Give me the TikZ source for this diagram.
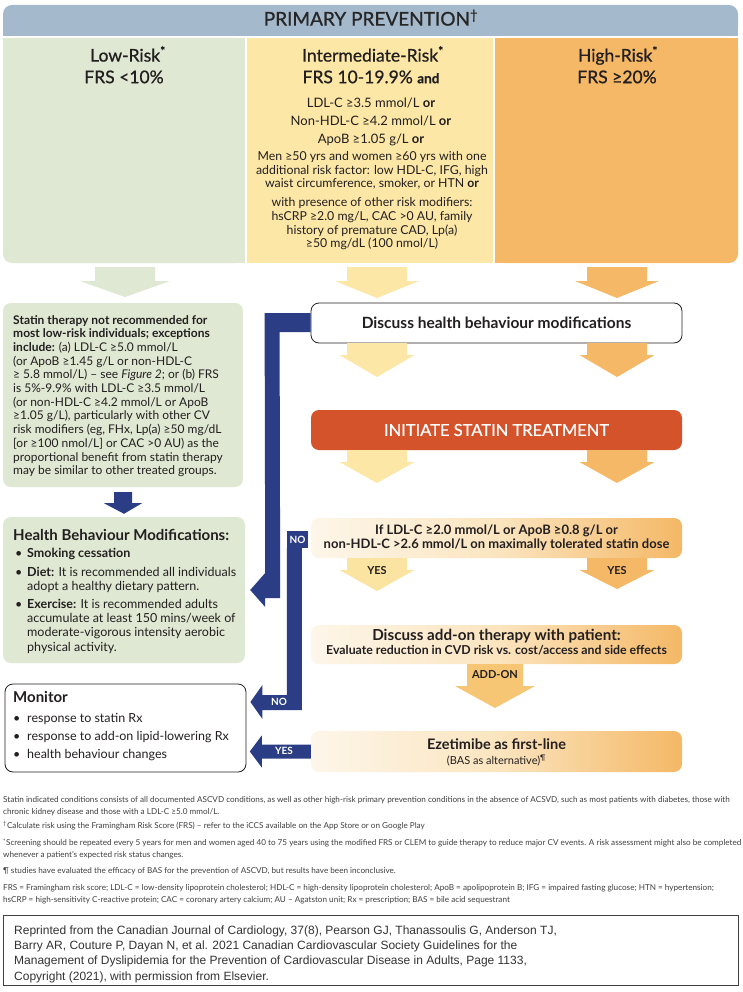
\documentclass[tikz,border=0pt]{standalone}
\usepackage{fontspec}
\setmainfont{Lato}
\newfontfamily\hfont{Lato}[FakeBold=0.8]
\newfontfamily\citefont{Liberation Sans}
\usetikzlibrary{calc}

\definecolor{hdrc}{HTML}{A5B9CD}
\definecolor{lowc}{HTML}{DFE8D2}
\definecolor{midc}{HTML}{FCE7A6}
\definecolor{highc}{HTML}{F4B866}
\definecolor{navyc}{HTML}{2B3E85}
\definecolor{redc}{HTML}{D4532B}
\definecolor{creamc}{HTML}{FDF6E9}
\definecolor{peachc}{HTML}{FBE5C0}
\definecolor{txtc}{HTML}{231F20}
\definecolor{fnc}{HTML}{404040}
\definecolor{addc}{HTML}{F6C674}
\definecolor{yesc}{HTML}{FBE3A2}

\newcommand{\fs}[1]{\fontsize{#1}{1.2\dimexpr #1pt\relax}\selectfont}

\tikzset{
  pics/barrow/.style n args={4}{code={\path[pic actions] (-#1,0) -- (#1,0) -- (#1,#3) -- (#2,#3) -- (0,#4) -- (-#2,#3) -- (-#1,#3) -- cycle;}},
  ln/.style={anchor=west, inner sep=0pt, text=txtc, execute at begin node=\strut},
  cl/.style={inner sep=0pt, text=txtc, execute at begin node=\strut},
  gbox/.style={rounded corners=8pt, inner sep=0pt, left color=creamc, right color=highc, middle color=peachc},
  wbox/.style={rounded corners=8pt, inner sep=0pt, draw=txtc, line width=0.8pt, fill=white},
  colhead/.style={cl, font=\hfont\fs{17.5}},
  midl/.style={cl, font=\fs{13}},
  mids/.style={cl, font=\fs{12.3}},
  fnote/.style={anchor=west, inner sep=0pt, text=fnc, font=\fs{8.15}},
  navytxt/.style={inner sep=0pt, text=white, font=\bfseries\fs{10}}
}

\begin{document}
\begin{tikzpicture}[x=1pt,y=-1pt]
\useasboundingbox (0,0) rectangle (742,992);
\fill[white] (0,0) rectangle (742,992);

% header
\fill[hdrc, rounded corners=9pt] (3,5) rectangle (738,36);
\fill[hdrc] (3,20) rectangle (738,36);
\node[cl, text=black!85, font=\hfont\fs{19}] (title) at (371,21) {PRIMARY PREVENTION\textsuperscript{†}};

% columns
\fill[lowc, rounded corners=9pt] (3,38) rectangle (245,263);
\fill[lowc] (3,38) rectangle (245,245);
\fill[lowc] (25,38) rectangle (245,263);
\fill[midc] (247,38) rectangle (493,263);
\fill[highc, rounded corners=9pt] (495,38) rectangle (738,263);
\fill[highc] (495,38) rectangle (738,245);
\fill[highc] (495,38) rectangle (715,263);

\node[colhead] (lowh) at (128,57) {Low-Risk\textsuperscript{*}};
\node[colhead] (lowf) at (124,79) {FRS <10\%};
\node[colhead] (midh) at (373,57) {Intermediate-Risk\textsuperscript{*}};
\node[colhead] (midf) at (371,79) {FRS 10-19.9\% {\bfseries\fs{13.5}and}};
\node[colhead] (highh) at (618,57) {High-Risk\textsuperscript{*}};
\node[colhead] (highf) at (617,79) {FRS ≥20\%};

\node[midl] (i1) at (371,104) {LDL-C ≥3.5 mmol/L \textbf{or}};
\node[midl] (i2) at (371,122) {Non-HDL-C ≥4.2 mmol/L \textbf{or}};
\node[midl] (i3) at (371,140) {ApoB ≥1.05 g/L \textbf{or}};
\node[mids] (i4) at (372,158) {Men ≥50 yrs and women ≥60 yrs with one};
\node[mids] (i5) at (372,171.5) {additional risk factor: low HDL-C, IFG, high};
\node[mids] (i6) at (372,185) {waist circumference, smoker, or HTN \textbf{or}};
\node[mids] (i7) at (372,204) {with presence of other risk modifiers:};
\node[mids] (i8) at (372,217.5) {hsCRP ≥2.0 mg/L, CAC >0 AU, family};
\node[mids] (i9) at (372,231.5) {history of premature CAD, Lp(a)};
\node[mids] (i10) at (372,245) {≥50 mg/dL (100 nmol/L)};

% column arrows
\pic[fill=lowc] at (125,267) {barrow={30}{45}{14}{30}};
\pic[fill=midc] at (377,267) {barrow={30}{42}{14}{31}};
\pic[fill=highc] at (617,267) {barrow={30}{42}{14}{31}};

% statin box
\node[rounded corners=8pt, fill=lowc, minimum width=240pt, minimum height=184pt, inner sep=0pt] (statin) at (123,395) {};
\node[anchor=west, inner sep=0pt, align=left, text=txtc, font=\fontsize{12}{13.7}\selectfont] (statintxt) at (13,396) {\textbf{Statin therapy not recommended for}\\
\textbf{most low-risk individuals; exceptions}\\
\textbf{include:} (a) LDL-C ≥5.0 mmol/L\\
(or ApoB ≥1.45 g/L or non-HDL-C\\
≥ 5.8 mmol/L) – see \textit{Figure 2}; or (b) FRS\\
is 5\%-9.9\% with LDL-C ≥3.5 mmol/L\\
(or non-HDL-C ≥4.2 mmol/L or ApoB\\
≥1.05 g/L), particularly with other CV\\
risk modifiers (eg, FHx, Lp(a) ≥50 mg/dL\\
{[}or ≥100 nmol/L{]} or CAC >0 AU) as the\\
proportional benefit from statin therapy\\
may be similar to other treated groups.};

% health box
\node[rounded corners=8pt, fill=lowc, minimum width=242pt, minimum height=146pt, inner sep=0pt] (health) at (124,590) {};
\node[ln, font=\bfseries\fs{15}] (h0) at (13,537) {Health Behaviour Modifications:};
\node[ln, font=\fs{12.5}] (hb1) at (15,554) {•};
\node[ln, font=\bfseries\fs{12.5}] (h1) at (27,554) {Smoking cessation};
\node[ln, font=\fs{12.5}] (hb2) at (15,573) {•};
\node[ln, font=\fs{12.5}] (h2) at (27,573) {\textbf{Diet:} It is recommended all individuals};
\node[ln, font=\fs{12.5}] (h3) at (27,587) {adopt a healthy dietary pattern.};
\node[ln, font=\fs{12.5}] (hb3) at (15,605) {•};
\node[ln, font=\fs{12.5}] (h4) at (27,605) {\textbf{Exercise:} It is recommended adults};
\node[ln, font=\fs{12.5}] (h5) at (27,619) {accumulate at least 150 mins/week of};
\node[ln, font=\fs{12.5}] (h6) at (27,633) {moderate-vigorous intensity aerobic};
\node[ln, font=\fs{12.5}] (h7) at (27,648) {physical activity.};

% monitor box
\node[wbox, minimum width=241pt, minimum height=88pt] (monitor) at (125.5,728) {};
\node[ln, font=\bfseries\fs{15}] (m0) at (13,699) {Monitor};
\node[ln, font=\fs{12.5}] (mb1) at (13,719) {•};
\node[ln, font=\fs{12.5}] (m1) at (27,719) {response to statin Rx};
\node[ln, font=\fs{12.5}] (mb2) at (13,737) {•};
\node[ln, font=\fs{12.5}] (m2) at (27,737) {response to add-on lipid-lowering Rx};
\node[ln, font=\fs{12.5}] (mb3) at (13,755) {•};
\node[ln, font=\fs{12.5}] (m3) at (27,755) {health behaviour changes};

% flow boxes
\node[wbox, minimum width=371pt, minimum height=40pt, font=\bfseries\fs{15.5}, text=txtc] (discuss) at (496.5,323) {Discuss health behaviour modifications};
\pic[fill=midc] at (377,343) {barrow={30}{37.5}{12}{34}};
\pic[fill=highc] at (617,343) {barrow={30}{37.5}{12}{34}};

\node[rounded corners=8pt, fill=redc, minimum width=371pt, minimum height=40pt, inner sep=0pt, text=white, font=\hfont\fs{16.5}] (initiate) at (496.5,430) {INITIATE STATIN TREATMENT};
\pic[fill=midc] at (377,450) {barrow={30}{37.5}{12}{33}};
\pic[fill=highc] at (617,450) {barrow={30}{37.5}{12}{33}};

\node[gbox, minimum width=371pt, minimum height=40pt, align=center, text=txtc, font=\bfseries\fontsize{13}{14}\selectfont] (ifbox) at (496.5,538) {If LDL-C ≥2.0 mmol/L or ApoB ≥0.8 g/L or\\non-HDL-C >2.6 mmol/L on maximally tolerated statin dose};
\pic[fill=yesc] at (377,558) {barrow={30}{37.5}{12}{33}};
\pic[fill=highc] at (617,558) {barrow={30}{37.5}{12}{31}};
\node[cl, font=\bfseries\fs{11}] (yes1) at (377,572) {YES};
\node[cl, font=\bfseries\fs{11}] (yes2) at (617,572) {YES};

\node[gbox, minimum width=371pt, minimum height=39pt] (addon) at (496.5,644.5) {};
\node[cl, font=\bfseries\fs{15.2}] (addon1) at (496.5,637) {Discuss add-on therapy with patient:};
\node[cl, font=\bfseries\fs{12.3}] (addon2) at (496.5,652) {Evaluate reduction in CVD risk vs. cost/access and side effects};
\pic[fill=addc] at (495,664) {barrow={28}{40}{22}{44}};
\node[cl, font=\bfseries\fs{11}] (addlab) at (495,676) {ADD-ON};

\node[gbox, minimum width=371pt, minimum height=41pt] (ezet) at (496.5,751.5) {};
\node[cl, font=\bfseries\fs{14.5}] (ez1) at (496.5,746) {Ezetimibe as first-line};
\node[cl, font=\fs{11}] (ez2) at (496.5,762) {(BAS as alternative)\textsuperscript{¶}};

% navy connectors
\fill[navyc] ($(statin.south)+(-9,5)$) -- ($(statin.south)+(9,5)$) -- ($(statin.south)+(9,16)$) -- ($(statin.south)+(19,16)$) -- ($(health.north)+(0,-3)$) -- ($(statin.south)+(-19,16)$) -- ($(statin.south)+(-9,16)$) -- cycle;

\fill[navyc] ($(discuss.west)+(0,-10)$) -- ($(discuss.west)+(-46,-10)$) -- ($(health.east)+(20,-17)$) -- ($(health.east)+(5,0)$) -- ($(health.east)+(20,17)$) -- ($(health.east)+(20,8)$) -- ($(health.east)+(35,8)$) -- ($(discuss.west)+(-31,9)$) -- ($(discuss.west)+(0,9)$) -- cycle;

\node[fill=navyc, minimum width=21pt, minimum height=17pt, inner sep=0pt, text=white, font=\bfseries\fs{10}] (no1) at (297.5,539.5) {NO};
\coordinate (nobar) at (no1.south west);
\fill[navyc] (nobar) -- ($(nobar)+(15,0)$) -- ($(nobar)+(15,162)$) -- ($(monitor.east)+(16,-18)$) -- ($(monitor.east)+(16,-9)$) -- ($(monitor.east)+(4,-26)$) -- ($(monitor.east)+(16,-43)$) -- ($(monitor.east)+(16,-33)$) -- ($(nobar)+(0,147)$) -- cycle;
\node[navytxt] (no2) at (279,702) {NO};

\fill[navyc] ($(ezet.west)+(0,-7)$) -- ($(ezet.west)+(0,7)$) -- ($(ezet.west)+(-49,7)$) -- ($(ezet.west)+(-49,16)$) -- ($(ezet.west)+(-61,0)$) -- ($(ezet.west)+(-49,-16)$) -- ($(ezet.west)+(-49,-7)$) -- cycle;
\node[navytxt] (yes3) at (284,751) {YES};

% footnotes
\node[fnote] (f1) at (3,800) {Statin indicated conditions consists of all documented ASCVD conditions, as well as other high-risk primary prevention conditions in the absence of ACSVD, such as most patients with diabetes, those with};
\node[fnote] (f2) at (3,812) {chronic kidney disease and those with a LDL-C ≥5.0 mmol/L.};
\node[fnote] (f3) at (3,826) {\textsuperscript{†}Calculate risk using the Framingham Risk Score (FRS) – refer to the iCCS available on the App Store or on Google Play};
\node[fnote] (f4) at (3,843) {\textsuperscript{*}Screening should be repeated every 5 years for men and women aged 40 to 75 years using the modified FRS or CLEM to guide therapy to reduce major CV events. A risk assessment might also be completed};
\node[fnote] (f5) at (3,855) {whenever a patient’s expected risk status changes.};
\node[fnote] (f6) at (3,871) {¶ studies have evaluated the efficacy of BAS for the prevention of ASCVD, but results have been inconclusive.};
\node[fnote] (f7) at (3,888) {FRS = Framingham risk score; LDL-C = low-density lipoprotein cholesterol; HDL-C = high-density lipoprotein cholesterol; ApoB = apolipoprotein B; IFG = impaired fasting glucose; HTN = hypertension;};
\node[fnote] (f8) at (3,900) {hsCRP = high-sensitivity C-reactive protein; CAC = coronary artery calcium; AU – Agatston unit; Rx = prescription; BAS = bile acid sequestrant};

% citation
\node[draw=black!75, line width=0.9pt, minimum width=735pt, minimum height=70pt, inner sep=0pt] (cite) at (370.5,950) {};
\node[anchor=west, inner sep=0pt, align=left, text=black!80, font=\citefont\fontsize{12}{15.3}\selectfont] (citetxt) at (14,954) {Reprinted from the Canadian Journal of Cardiology, 37(8), Pearson GJ, Thanassoulis G, Anderson TJ,\\
Barry AR, Couture P, Dayan N, et al. 2021 Canadian Cardiovascular Society Guidelines for the\\
Management of Dyslipidemia for the Prevention of Cardiovascular Disease in Adults, Page 1133,\\
Copyright (2021), with permission from Elsevier.};
\end{tikzpicture}
\end{document}
